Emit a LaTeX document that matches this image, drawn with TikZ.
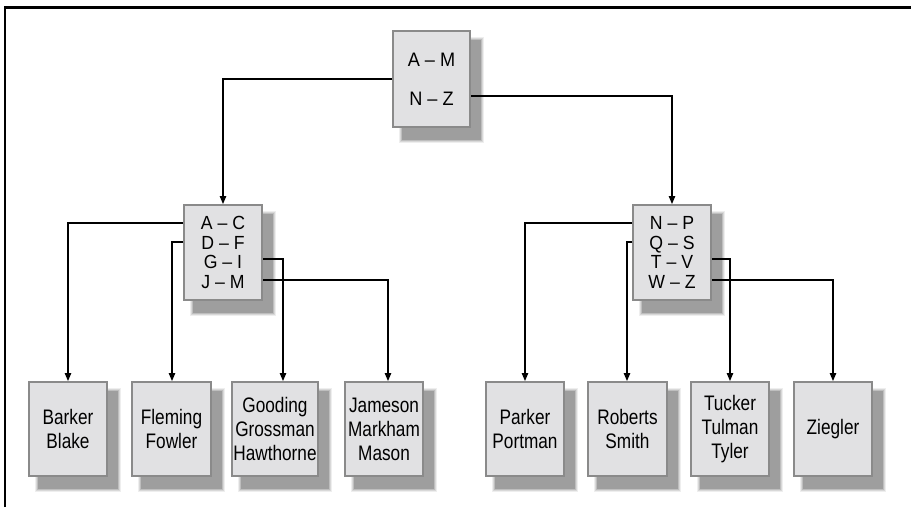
\documentclass[tikz,border=0pt]{standalone}
\usepackage{fontspec}
\setmainfont{Liberation Sans}[FakeStretch=0.82]
\newfontfamily\rowfont{Liberation Sans}[FakeStretch=0.93,Ligatures=TeX]
\usetikzlibrary{backgrounds,arrows.meta,calc}
\definecolor{boxfill}{HTML}{E1E1E3}
\definecolor{boxline}{HTML}{8A8A8A}
\definecolor{shA}{HTML}{EEEEEE}
\definecolor{shB}{HTML}{D8D8D8}
\definecolor{shC}{HTML}{BEBEBE}
\definecolor{shD}{HTML}{9E9E9E}
\tikzset{
  card/.style={draw=boxline, line width=2pt, fill=boxfill, inner sep=0pt, align=center,
    font=\fontsize{21}{24}\selectfont},
  rangebox/.style={card, minimum width=78pt, minimum height=95pt,
    font=\rowfont\fontsize{19}{19.5}\selectfont},
  namebox/.style={card, minimum height=94pt},
  link/.style={line width=1.2pt, -{Triangle[length=8pt,width=6.5pt]}},
  frame/.style={line width=2.2pt}
}
\newcommand\dropsh[1]{%
  \begin{scope}[on background layer]
    \fill[shA] ([shift={(7,7)}]#1.north west) rectangle ([shift={(13,15)}]#1.south east);
    \fill[shB] ([shift={(8,8)}]#1.north west) rectangle ([shift={(12,14)}]#1.south east);
    \fill[shC] ([shift={(9,9)}]#1.north west) rectangle ([shift={(11,13)}]#1.south east);
    \fill[shD] ([shift={(10,10)}]#1.north west) rectangle ([shift={(10,12)}]#1.south east);
  \end{scope}}
\begin{document}
\begin{tikzpicture}[x=1pt,y=-1pt]
\useasboundingbox (0,0) rectangle (911,507);
\draw[frame] (5,507) -- (5,7.5) -- (911,7.5);

% top
\node[card, minimum width=77pt, minimum height=96pt, font=\rowfont\fontsize{19.5}{39}\selectfont] (top) at (431.5,79) {A – M\\N – Z};

% middle
\node[rangebox] (midL) at (223,252.5) {A – C\\D – F\\G – I\\J – M};
\node[rangebox] (midR) at (672,252.5) {N – P\\Q – S\\T – V\\W – Z};

% bottom
\node[namebox, minimum width=78pt] (barker) at (68,429) {Barker\\Blake};
\node[namebox, minimum width=79pt] (fleming) at (171.5,429) {Fleming\\Fowler};
\node[namebox, minimum width=86pt] (gooding) at (275,429) {Gooding\\Grossman\\Hawthorne};
\node[namebox, minimum width=78pt] (jameson) at (384,429) {Jameson\\Markham\\Mason};
\node[namebox, minimum width=78pt] (parker) at (525,429) {Parker\\Portman};
\node[namebox, minimum width=79pt] (roberts) at (627.5,429) {Roberts\\Smith};
\node[namebox, minimum width=78pt] (tucker) at (730,429) {Tucker\\Tulman\\Tyler};
\node[namebox, minimum width=78pt] (ziegler) at (833,429) {Ziegler};

\foreach \n in {top,midL,midR,barker,fleming,gooding,jameson,parker,roberts,tucker,ziegler}{\dropsh{\n}}

% connectors
\draw[link] (top.west) -| (midL.north);
\draw[link] (top.east |- 0,96) -| (midR.north);

\draw[link] (midL.west |- 0,223) -| (barker.north);
\draw[link] (midL.west |- 0,242) -| ([xshift=0.5pt]fleming.north);
\draw[link] (midL.east |- 0,259) -| ([xshift=8pt]gooding.north);
\draw[link] (midL.east |- 0,280) -| ([xshift=4pt]jameson.north);

\draw[link] (midR.west |- 0,223) -| (parker.north);
\draw[link] (midR.west |- 0,242) -| ([xshift=-0.5pt]roberts.north);
\draw[link] (midR.east |- 0,259) -| (tucker.north);
\draw[link] (midR.east |- 0,280) -| (ziegler.north);
\end{tikzpicture}
\end{document}
